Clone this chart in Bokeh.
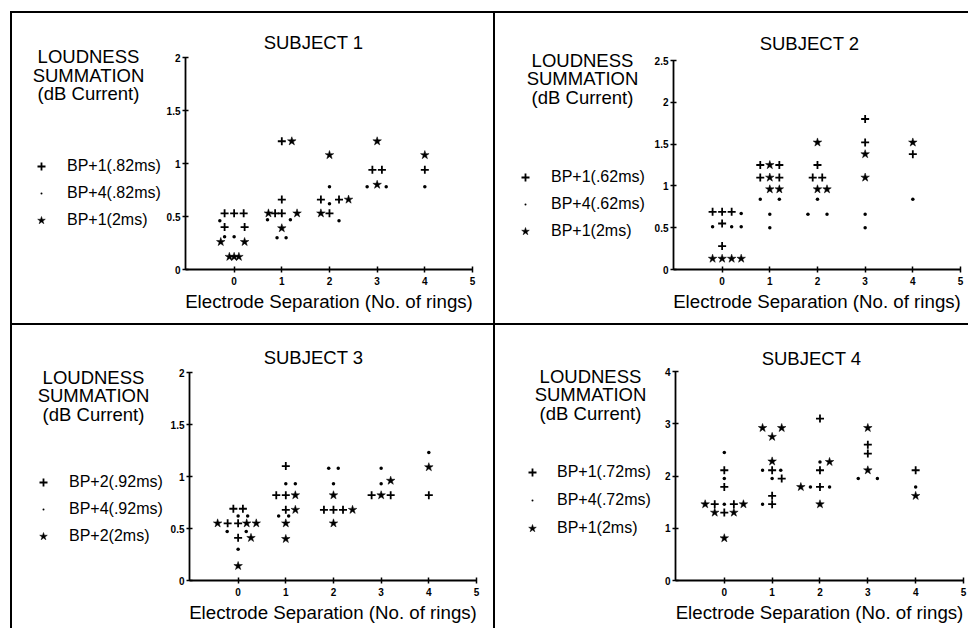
from bokeh.plotting import figure
from bokeh.layouts import row, column
from bokeh.models import (Range1d, FixedTicker, CustomJSTickFormatter, Label,
                          Legend, LegendItem, ColumnDataSource, Spacer)
from bokeh.embed import file_html
from bokeh.resources import INLINE

FONT = "Liberation Sans"

# ---------------- data ----------------
x_ticks = [0, 1, 2, 3, 4, 5]
x_title = "Electrode Separation (No. of rings)"
y_title_lines = ["LOUDNESS", "SUMMATION", "(dB Current)"]

s1_title = "SUBJECT 1"
s1_labels = ["BP+1(.82ms)", "BP+4(.82ms)", "BP+1(2ms)"]
s1_yticks = [0, 0.5, 1, 1.5, 2]
s1_plus_x = [-0.2, 0.0, 0.2, -0.2, 0.22, 0.86, 1.0, 1.0, 1.0, 1.82, 2.2, 2.0, 2.9, 3.1, 4.0]
s1_plus_y = [0.53, 0.53, 0.53, 0.40, 0.40, 0.53, 0.53, 0.66, 1.21, 0.66, 0.66, 0.53, 0.94, 0.94, 0.94]
s1_dot_x = [-0.3, -0.2, 0.0, 0.7, 1.18, 0.9, 1.09, 2.0, 2.0, 2.2, 2.79, 3.19, 4.0]
s1_dot_y = [0.46, 0.31, 0.31, 0.47, 0.47, 0.30, 0.30, 0.78, 0.62, 0.46, 0.78, 0.78, 0.78]
s1_star_x = [-0.28, 0.22, -0.1, 0.0, 0.1, 0.72, 1.32, 1.0, 1.21, 2.0, 2.4, 1.82, 3.0, 3.0, 4.0]
s1_star_y = [0.26, 0.26, 0.12, 0.12, 0.12, 0.53, 0.53, 0.39, 1.21, 1.08, 0.66, 0.53, 1.21, 0.80, 1.08]

s2_title = "SUBJECT 2"
s2_labels = ["BP+1(.62ms)", "BP+4(.62ms)", "BP+1(2ms)"]
s2_yticks = [0, 0.5, 1, 1.5, 2, 2.5]
s2_plus_x = [-0.2, 0.0, 0.2, 0.0, 0.0, 0.8, 1.2, 0.8, 1.2, 2.0, 1.9, 2.1, 3.0, 3.0, 4.0]
s2_plus_y = [0.69, 0.69, 0.69, 0.55, 0.28, 1.25, 1.25, 1.10, 1.10, 1.25, 1.10, 1.10, 1.80, 1.52, 1.38]
s2_dot_x = [0.4, -0.2, 0.2, 0.4, 0.8, 1.2, 1.0, 1.0, 2.0, 1.8, 2.2, 3.0, 3.0, 4.0]
s2_dot_y = [0.67, 0.51, 0.51, 0.51, 0.84, 0.84, 0.66, 0.50, 0.84, 0.66, 0.66, 0.66, 0.50, 0.84]
s2_star_x = [-0.2, 0.0, 0.2, 0.4, 1.0, 1.0, 1.0, 1.2, 2.0, 2.0, 2.2, 3.0, 3.0, 4.0]
s2_star_y = [0.13, 0.13, 0.13, 0.13, 1.25, 1.10, 0.96, 0.96, 1.52, 0.96, 0.96, 1.38, 1.10, 1.52]

s3_title = "SUBJECT 3"
s3_labels = ["BP+2(.92ms)", "BP+4(.92ms)", "BP+2(2ms)"]
s3_yticks = [0, 0.5, 1, 1.5, 2]
s3_plus_x = [-0.1, 0.1, -0.22, 0.0, 0.0, 1.0, 0.8, 1.0, 1.0, 1.8, 2.0, 2.2, 2.8, 3.2, 4.0]
s3_plus_y = [0.69, 0.69, 0.55, 0.55, 0.41, 1.10, 0.82, 0.82, 0.68, 0.68, 0.68, 0.68, 0.82, 0.82, 0.82]
s3_dot_x = [0.0, 0.2, -0.23, 0.17, 0.0, 1.0, 1.2, 0.85, 1.06, 1.9, 2.1, 2.0, 3.0, 3.0, 4.0]
s3_dot_y = [0.62, 0.62, 0.47, 0.47, 0.30, 0.93, 0.93, 0.62, 0.62, 1.08, 1.08, 0.93, 1.08, 0.93, 1.23]
s3_star_x = [-0.43, 0.18, 0.38, 0.27, 0.0, 1.2, 1.2, 1.0, 1.0, 2.0, 2.4, 2.0, 3.2, 3.0, 4.0]
s3_star_y = [0.55, 0.55, 0.55, 0.41, 0.14, 0.82, 0.68, 0.55, 0.40, 0.82, 0.68, 0.55, 0.96, 0.82, 1.09]

s4_title = "SUBJECT 4"
s4_labels = ["BP+1(.72ms)", "BP+4(.72ms)", "BP+1(2ms)"]
s4_yticks = [0, 1, 2, 3, 4]
s4_plus_x = [0.0, 0.0, -0.2, 0.2, 0.0, 1.0, 1.2, 1.0, 1.0, 2.0, 2.0, 2.0, 3.0, 3.0, 4.0]
s4_plus_y = [2.11, 1.79, 1.46, 1.46, 1.30, 2.11, 1.95, 1.62, 1.46, 3.10, 2.11, 1.79, 2.60, 2.43, 2.11]
s4_dot_x = [0.0, 0.0, 0.0, 0.8, 1.18, 1.0, 0.8, 2.0, 1.8, 2.2, 2.8, 3.2, 4.0]
s4_dot_y = [2.45, 1.95, 1.46, 2.11, 2.11, 1.95, 1.46, 2.27, 1.79, 1.79, 1.95, 1.95, 1.79]
s4_star_x = [-0.4, 0.4, -0.2, 0.2, 0.0, 0.8, 1.2, 1.0, 1.0, 2.2, 1.6, 2.0, 3.0, 3.0, 4.0]
s4_star_y = [1.46, 1.46, 1.30, 1.30, 0.81, 2.92, 2.92, 2.75, 2.28, 2.27, 1.79, 1.46, 2.92, 2.11, 1.62]

PLUS = dict(marker="cross", size=8, line_width=1.8, line_color="black")
DOT = dict(marker="dot", size=14, line_color="black", fill_color="black", line_width=1)
STAR = dict(marker="star", size=9, line_color="black", fill_color="black", line_width=0.5)


def make_panel(title, labels, yticks, px, py, dx, dy, sx_, sy_, L):
    # all layout numbers below are page pixels
    x0, top, h, bp = L["x0"], L["top"], L["h"], L["bp"]
    lw = L["dstart"] - x0
    dw = L["x1"] - L["dstart"]
    fl = L["dstart"] + 21          # page x of the y axis (frame left)
    mbb = top + h - bp
    ymax = yticks[-1]
    y_top = ymax * (bp - top) / (bp - L["tp"])

    src_plus = ColumnDataSource(dict(x=px, y=py))
    src_dot = ColumnDataSource(dict(x=dx, y=dy))
    src_star = ColumnDataSource(dict(x=sx_, y=sy_))

    # ---- data figure ----
    p = figure(width=dw, height=h, x_range=Range1d(-1.02, 5),
               y_range=Range1d(0, y_top), output_backend="svg",
               toolbar_location=None, min_border_left=21,
               min_border_right=L["x1"] - L["xr"], min_border_top=0,
               min_border_bottom=mbb)
    p.outline_line_color = None
    p.xgrid.visible = False
    p.ygrid.visible = False
    p.border_fill_color = "white"

    fmt = CustomJSTickFormatter(code="return tick.toString()")
    for ax, ticks in ((p.xaxis[0], x_ticks), (p.yaxis[0], yticks)):
        ax.ticker = FixedTicker(ticks=ticks)
        ax.formatter = fmt
        ax.axis_line_width = 1.8
        ax.axis_line_color = "black"
        ax.major_tick_line_width = 1.5
        ax.major_tick_line_color = "black"
        ax.major_tick_in = 3
        ax.major_tick_out = 3
        ax.minor_tick_line_color = None
        ax.major_label_text_font = FONT
        ax.major_label_text_font_size = "10px"
        ax.major_label_text_font_style = "bold"
        ax.major_label_text_color = "black"
    p.yaxis[0].bounds = (0, ymax)
    p.yaxis[0].major_label_standoff = 2
    p.xaxis[0].major_label_standoff = 4
    p.xaxis[0].axis_label = x_title
    p.xaxis[0].axis_label_text_font = FONT
    p.xaxis[0].axis_label_text_font_size = "18.7px"
    p.xaxis[0].axis_label_text_font_style = "normal"
    p.xaxis[0].axis_label_text_color = "black"
    p.xaxis[0].axis_label_standoff = 3

    p.scatter("x", "y", source=src_plus, **PLUS)
    p.scatter("x", "y", source=src_dot, **DOT)
    p.scatter("x", "y", source=src_star, **STAR)

    tx, ty = L["title"]
    p.add_layout(Label(x=tx - fl, y=bp - ty, x_units="screen", y_units="screen",
                       text=title, text_align="center", text_baseline="middle",
                       text_font=FONT, text_font_size="18.5px", text_color="black"))

    # ---- label figure (left part of the panel, page-pixel coordinates) ----
    q = figure(width=lw, height=h, x_range=Range1d(x0, x0 + lw),
               y_range=Range1d(bp, top), output_backend="svg",
               toolbar_location=None, x_axis_type=None, y_axis_type=None,
               min_border_left=0, min_border_right=0, min_border_top=0,
               min_border_bottom=mbb)
    q.outline_line_color = None
    q.xgrid.visible = False
    q.ygrid.visible = False
    for line, cy in zip(y_title_lines, L["yt_y"]):
        q.add_layout(Label(x=L["yt_x"], y=cy, text=line, text_align="center",
                           text_baseline="middle", text_font=FONT,
                           text_font_size="18.5px", text_color="black"))
    h_plus = q.scatter("x", "y", source=src_plus, visible=False, **PLUS)
    h_dot = q.scatter("x", "y", source=src_dot, visible=False, **DOT)
    h_star = q.scatter("x", "y", source=src_star, visible=False, **STAR)

    gw = 20
    spacing = L["row"] - gw
    lh = 3 * gw + 2 * spacing
    left = L["lg_x"] - gw // 2
    ltop = L["lg_y"] - gw // 2
    legend = Legend(
        items=[LegendItem(label=labels[0], renderers=[h_plus]),
               LegendItem(label=labels[1], renderers=[h_dot]),
               LegendItem(label=labels[2], renderers=[h_star])],
        location=(left - x0, bp - lh - ltop), orientation="vertical",
        glyph_width=gw, glyph_height=gw, label_height=gw, spacing=spacing,
        padding=0, margin=0, border_line_color=None, background_fill_alpha=0,
        label_text_font=FONT, label_text_font_size="16px",
        label_text_color="black",
        label_standoff=L["lb_x"] - (L["lg_x"] + gw // 2))
    q.add_layout(legend)
    return q, p


BLACK = {"background-color": "black"}
H1, H2 = 310, 303
T1, T2 = 13, 325
B1, B2 = 269, 580

L1 = dict(x0=12, top=T1, h=H1, bp=B1, dstart=163, x1=493, xr=472, tp=57,
          title=(312, 42), yt_x=88, yt_y=[56, 75, 93], lg_x=41, lg_y=166, row=27, lb_x=67)
L2 = dict(x0=495, top=T1, h=H1, bp=B1, dstart=651, x1=968, xr=960, tp=60,
          title=(808, 43), yt_x=582, yt_y=[60, 78, 97], lg_x=525, lg_y=177, row=27, lb_x=551)
L3 = dict(x0=12, top=T2, h=H2, bp=B2, dstart=167, x1=493, xr=476, tp=372,
          title=(312, 357), yt_x=93, yt_y=[377, 395, 414], lg_x=43, lg_y=482, row=27, lb_x=69)
L4 = dict(x0=495, top=T2, h=H2, bp=B2, dstart=654, x1=968, xr=963, tp=371,
          title=(811, 358), yt_x=590, yt_y=[376, 394, 413], lg_x=532, lg_y=472, row=28, lb_x=557)

q1, p1 = make_panel(s1_title, s1_labels, s1_yticks, s1_plus_x, s1_plus_y,
                    s1_dot_x, s1_dot_y, s1_star_x, s1_star_y, L1)
q2, p2 = make_panel(s2_title, s2_labels, s2_yticks, s2_plus_x, s2_plus_y,
                    s2_dot_x, s2_dot_y, s2_star_x, s2_star_y, L2)
q3, p3 = make_panel(s3_title, s3_labels, s3_yticks, s3_plus_x, s3_plus_y,
                    s3_dot_x, s3_dot_y, s3_star_x, s3_star_y, L3)
q4, p4 = make_panel(s4_title, s4_labels, s4_yticks, s4_plus_x, s4_plus_y,
                    s4_dot_x, s4_dot_y, s4_star_x, s4_star_y, L4)


def vline(hh):
    return Spacer(width=2, height=hh, styles=BLACK, margin=0)


def hline():
    return row(Spacer(width=10, height=2, margin=0),
               Spacer(width=958, height=2, styles=BLACK, margin=0))


row1 = row(Spacer(width=10, height=H1, margin=0), vline(H1), q1, p1, vline(H1), q2, p2)
row2 = row(Spacer(width=10, height=H2, margin=0), vline(H2), q3, p3, vline(H2), q4, p4)
layout = column(Spacer(width=968, height=11, margin=0), hline(), row1, hline(), row2)

open("out.html", "w").write(file_html(layout, INLINE))
